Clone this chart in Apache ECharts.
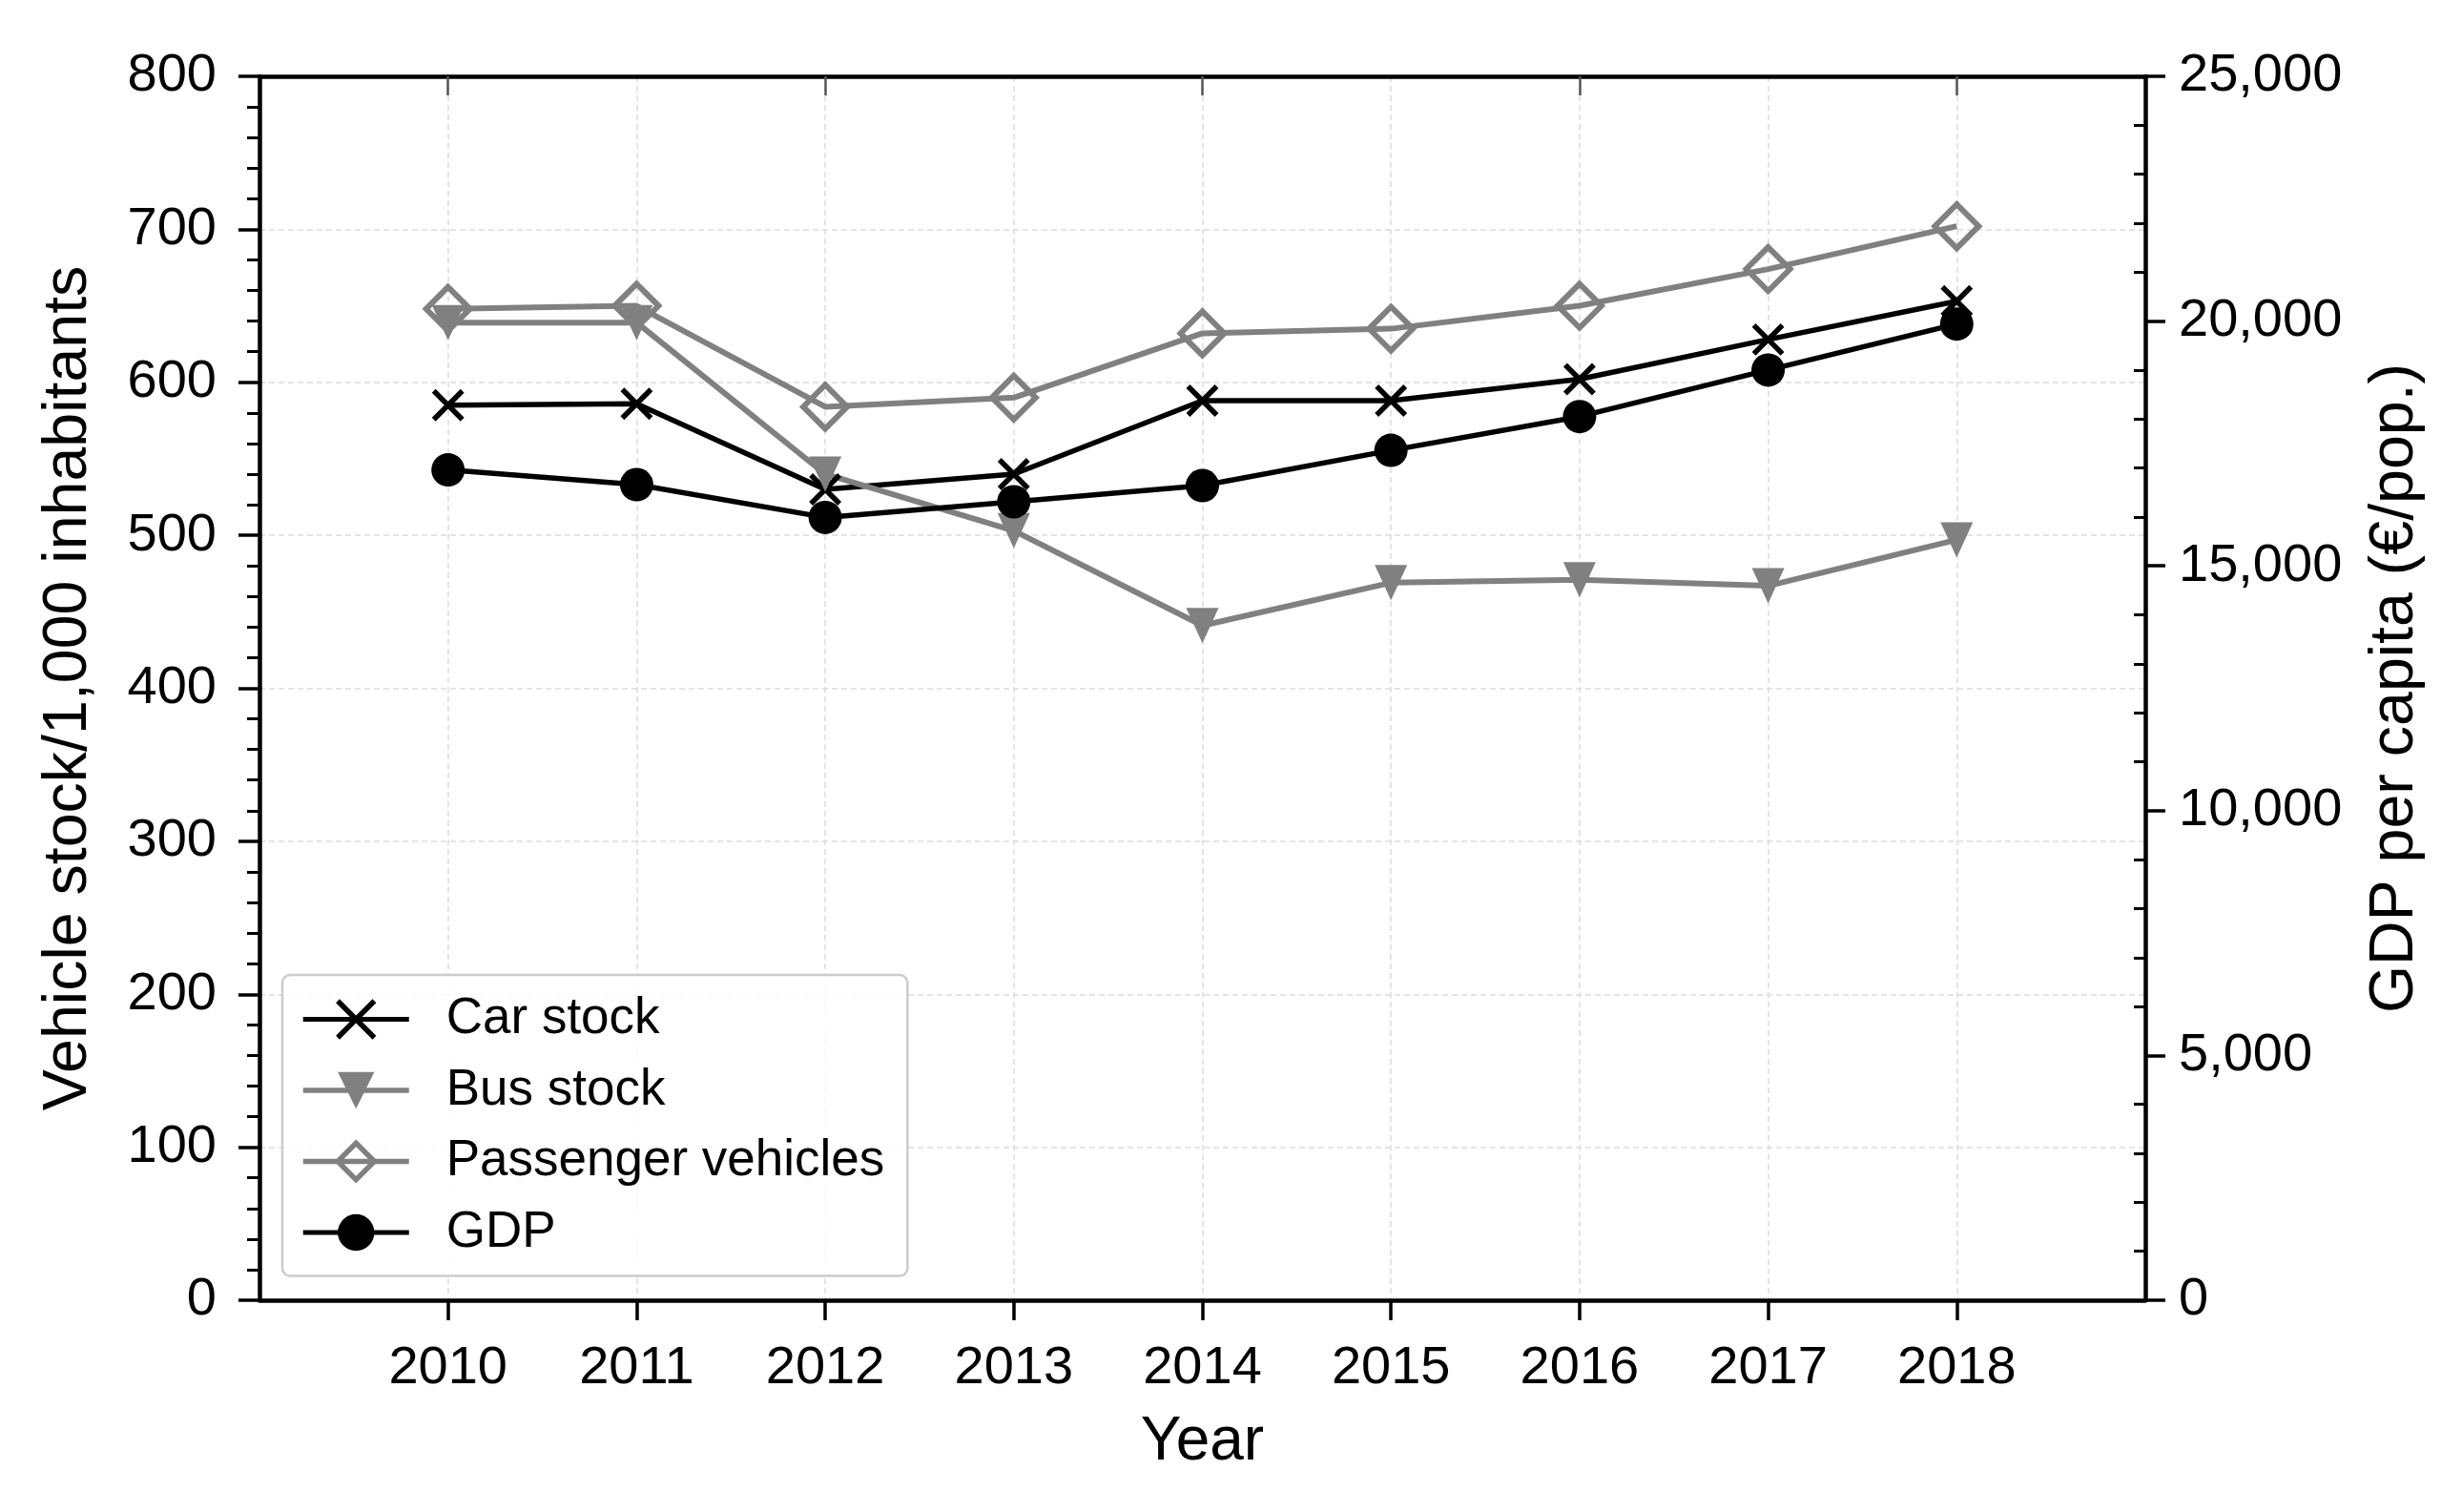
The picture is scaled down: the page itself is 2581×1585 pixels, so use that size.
<!DOCTYPE html>
<html>
<head>
<meta charset="utf-8">
<script src="https://cdn.jsdelivr.net/npm/echarts@6/dist/echarts.min.js"></script>
<style>
html,body{margin:0;padding:0;background:#fff;}
#chart{width:2581px;height:1585px;}
</style>
</head>
<body>
<div id="chart"></div>
<script>
const years = [2010, 2011, 2012, 2013, 2014, 2015, 2016, 2017, 2018];
const carStock = [585, 586, 530, 540, 588, 588, 602, 628, 653];
const busStock = [639, 639, 540, 503, 441, 469, 471, 467, 497];
const passengerVehicles = [648, 650, 584, 590, 632, 635, 650, 674, 702];
const gdpPerCapita = [16960, 16660, 15990, 16310, 16640, 17360, 18050, 19000, 19940];
const topTickYears = [2010, 2012, 2014, 2016, 2018];
const seriesNames = ['Car stock', 'Bus stock', 'Passenger vehicles', 'GDP'];

const FONT = "'Liberation Sans', Arial, Helvetica, sans-serif";
const GRAY = '#808080';
const pair = (vals) => years.map((y, i) => [y, vals[i]]);

const chart = echarts.init(document.getElementById('chart'), null, {renderer: 'canvas'});

const option = {
  animation: false,
  backgroundColor: '#fff',
  textStyle: {fontFamily: FONT},
  grid: {left: 272, top: 80, right: 332, bottom: 222, containLabel: false},
  legend: {
    orient: 'vertical',
    left: 296,
    top: 1022,
    itemWidth: 111,
    itemHeight: 48,
    itemGap: 21.5,
    padding: [20, 24, 19, 19],
    backgroundColor: 'rgba(255,255,255,0.85)',
    borderColor: '#cccccc',
    borderWidth: 2.5,
    borderRadius: 8,
    textStyle: {fontFamily: FONT, fontSize: 53, color: '#000', lineHeight: 53, padding: [0, 0, 0, 34]},
    data: [
      {name: seriesNames[0], lineStyle: {width: 5}, itemStyle: {borderWidth: 5.5}},
      {name: seriesNames[1], lineStyle: {width: 5.5}, itemStyle: {borderWidth: 0}},
      {name: seriesNames[2], lineStyle: {width: 5.5}, itemStyle: {borderWidth: 5.5}},
      {name: seriesNames[3], lineStyle: {width: 5}, itemStyle: {borderWidth: 0}}
    ]
  },
  xAxis: [
    {
      type: 'value', position: 'bottom', min: 2009, max: 2019, interval: 1,
      name: 'Year', nameLocation: 'middle', nameGap: 117,
      nameTextStyle: {fontFamily: FONT, fontSize: 64, color: '#000'},
      axisLine: {show: true, onZero: false, lineStyle: {color: '#000', width: 4.5}},
      axisTick: {show: true, length: 21, lineStyle: {color: '#000', width: 3.5}, customValues: years},
      axisLabel: {fontFamily: FONT, fontSize: 56, color: '#000', margin: 44, customValues: years,
        formatter: (v) => String(v)},
      splitLine: {show: true, lineStyle: {color: '#dcdcdc', width: 1.5, type: [6, 4]}}
    },
    {
      type: 'value', position: 'top', min: 2009, max: 2019, interval: 1,
      axisLine: {show: true, onZero: false, lineStyle: {color: '#000', width: 4.5}},
      axisTick: {show: true, inside: true, length: 20, lineStyle: {color: '#555', width: 2.5}, customValues: topTickYears},
      axisLabel: {show: false},
      splitLine: {show: false}
    }
  ],
  yAxis: [
    {
      type: 'value', position: 'left', min: 0, max: 800, interval: 100,
      name: 'Vehicle stock/1,000 inhabitants', nameLocation: 'middle', nameRotate: 90, nameGap: 167,
      nameTextStyle: {fontFamily: FONT, fontSize: 64.5, color: '#000'},
      axisLine: {show: true, onZero: false, lineStyle: {color: '#000', width: 4.5}},
      axisTick: {show: true, length: 22, lineStyle: {color: '#000', width: 3.5}},
      minorTick: {show: true, splitNumber: 5, length: 13, lineStyle: {color: '#000', width: 3}},
      axisLabel: {fontFamily: FONT, fontSize: 56, color: '#000', margin: 45},
      splitLine: {show: true, lineStyle: {color: '#dcdcdc', width: 1.5, type: [6, 4]}}
    },
    {
      type: 'value', position: 'right', min: 0, max: 25000, interval: 5000,
      name: 'GDP per capita (€/pop.)', nameLocation: 'middle', nameRotate: 90, nameGap: 230,
      nameTextStyle: {fontFamily: FONT, fontSize: 64.5, color: '#000'},
      axisLine: {show: true, onZero: false, lineStyle: {color: '#000', width: 4.5}},
      axisTick: {show: true, length: 21, lineStyle: {color: '#000', width: 3.5}},
      minorTick: {show: false},
      axisLabel: {fontFamily: FONT, fontSize: 56, color: '#000', margin: 35,
        formatter: (v) => v.toLocaleString('en-US')},
      splitLine: {show: false}
    },
    {
      type: 'value', position: 'right', offset: 0, min: 0, max: 25000, interval: 5000,
      axisLine: {show: false},
      axisTick: {show: false, inside: true},
      minorTick: {show: true, splitNumber: 5, length: 12, lineStyle: {color: '#000', width: 3}},
      axisLabel: {show: false},
      splitLine: {show: false}
    }
  ],
  series: [
    {
      name: seriesNames[0], type: 'line', xAxisIndex: 0, yAxisIndex: 0,
      data: pair(carStock),
      symbol: 'path://M0,0L10,10M10,0L0,10', symbolSize: 30,
      itemStyle: {color: '#000', borderColor: '#000', borderWidth: 5.5},
      lineStyle: {color: '#000', width: 5.5}
    },
    {
      name: seriesNames[1], type: 'line', xAxisIndex: 0, yAxisIndex: 0,
      data: pair(busStock),
      symbol: 'triangle', symbolSize: [34, 37], symbolRotate: 180,
      itemStyle: {color: GRAY, borderWidth: 0},
      lineStyle: {color: GRAY, width: 6}
    },
    {
      name: seriesNames[2], type: 'line', xAxisIndex: 0, yAxisIndex: 0,
      data: pair(passengerVehicles),
      symbol: 'diamond', symbolSize: 46,
      itemStyle: {color: 'rgba(255,255,255,0)', borderColor: GRAY, borderWidth: 6},
      lineStyle: {color: GRAY, width: 6}
    },
    {
      name: seriesNames[3], type: 'line', xAxisIndex: 0, yAxisIndex: 1,
      data: pair(gdpPerCapita),
      symbol: 'circle', symbolSize: 35,
      itemStyle: {color: '#000', borderWidth: 0},
      lineStyle: {color: '#000', width: 5.5}
    }
  ]
};

chart.setOption(option);
</script>
</body>
</html>
